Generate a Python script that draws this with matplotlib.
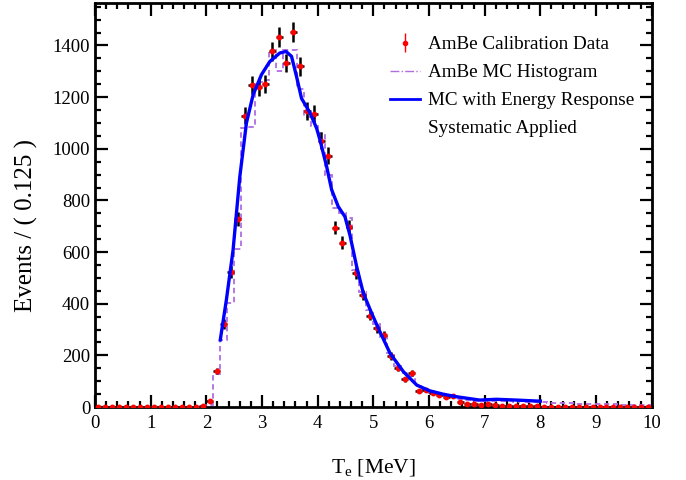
import numpy as np
import matplotlib
matplotlib.use("Agg")
import matplotlib.pyplot as plt
from matplotlib.lines import Line2D
from matplotlib.ticker import MultipleLocator

plt.rcParams['font.family'] = ['Liberation Serif', 'DejaVu Serif']
plt.rcParams['mathtext.fontset'] = 'custom'
plt.rcParams['mathtext.rm'] = 'Liberation Serif'
plt.rcParams['mathtext.it'] = 'Liberation Serif:italic'

# binning of the data / MC histogram (MeV)
bin_width = 0.125
x_min, x_max = 0.0, 10.0

# AmBe calibration data, events per bin (80 bins from 0 to 10 MeV)
data_counts = [0] * 15 + [
    3, 25, 140, 322, 522, 729, 1128, 1248, 1239, 1251,
    1377, 1433, 1332, 1452, 1319, 1147, 1134, 1031, 974, 695,
    637, 697, 518, 434, 354, 305, 278, 198, 152, 107,
    131, 62, 66, 53, 46, 40, 43, 18, 12, 12,
    8, 12, 7, 3, 4, 3, 5, 3, 4, 2,
    1, 2, 1, 1, 0, 1, 0, 1, 0, 0,
    0, 0, 0, 0, 0]

# AmBe MC histogram
mc_counts = [0] * 16 + [
    8, 128, 260, 404, 611, 1080, 1085, 1260, 1265, 1384,
    1300, 1384, 1384, 1230, 1125, 1090, 1060, 900, 770, 750,
    732, 530, 445, 375, 320, 270, 210, 160, 130, 120,
    80, 65, 55, 50, 45, 38, 32, 28, 25, 22,
    22, 25, 22, 22, 20, 22, 20, 20, 18, 17,
    16, 15, 14, 13, 13, 12, 11, 10, 10, 9,
    9, 8, 8, 7]

# MC with energy response systematic applied
curve_e = [2.25, 2.36, 2.48, 2.60, 2.72, 2.84, 2.99, 3.14, 3.32, 3.43,
           3.53, 3.62, 3.71, 3.86, 3.98, 4.04, 4.16, 4.25, 4.37, 4.49,
           4.58, 4.70, 4.82, 4.97, 5.10, 5.30, 5.54, 5.78, 6.01, 6.25,
           6.49, 6.91, 7.21, 7.57, 7.96, 8.0]
curve_n = [260, 415, 608, 890, 1100, 1209, 1287, 1338, 1371, 1377,
           1358, 1280, 1195, 1140, 1080, 1035, 932, 842, 776, 737,
           665, 544, 441, 363, 300, 208, 137, 85, 63, 50,
           40, 27, 30, 27, 23, 23]

edges = np.arange(x_min, x_max + bin_width / 2, bin_width)
centers = edges[:-1] + bin_width / 2
data = np.array(data_counts, dtype=float)
mc = np.array(mc_counts, dtype=float)

fig = plt.figure(figsize=(6.86, 4.80), dpi=100)
ax = fig.add_axes([0.1385, 0.152, 0.8115, 0.842])

purple = '#b06ee0'
ax.stairs(mc, edges, color=purple, lw=1.3, ls=(0, (3, 2)), zorder=2)

nz = data > 0
ax.errorbar(centers[nz], data[nz], yerr=np.sqrt(data[nz]), xerr=bin_width / 2,
            fmt='none', ecolor='black', elinewidth=1.8, zorder=3)
ax.plot(centers, data, 'o', color='red', ms=3.2, mec='red', zorder=4)

ax.plot(curve_e, curve_n, color='#0000ff', lw=2.4, zorder=5)

ax.set_xlim(x_min, x_max)
ax.set_ylim(0, 1565)
ax.xaxis.set_major_locator(MultipleLocator(1))
ax.xaxis.set_minor_locator(MultipleLocator(0.2))
ax.yaxis.set_major_locator(MultipleLocator(200))
ax.yaxis.set_minor_locator(MultipleLocator(50))
ax.tick_params(which='both', direction='in', top=True, right=True, width=1.6,
               labelsize=13.5, color='black')
ax.tick_params(which='major', length=9)
ax.tick_params(which='minor', length=4.5)
ax.tick_params(axis='x', pad=6)
for sp in ax.spines.values():
    sp.set_linewidth(2)

ax.set_xlabel(r'T$_{\rm e}$ [MeV]', fontsize=15.5, labelpad=18)
ax.set_ylabel('Events / ( 0.125 )', fontsize=18)
ax.yaxis.set_label_coords(-0.102, 0.45)

# legend proxies
h_data = ax.errorbar([np.nan], [np.nan], yerr=[1], fmt='o', color='red', ecolor='red',
                     ms=3, elinewidth=1)
h_mc = Line2D([], [], color=purple, lw=1, ls='-.')
h_curve = Line2D([], [], color='#0000ff', lw=2)
h_blank = Line2D([], [], color='none')
ax.legend([h_data, h_mc, h_curve, h_blank],
          ['AmBe Calibration Data', 'AmBe MC Histogram', 'MC with Energy Response',
           'Systematic Applied'],
          loc='upper left', bbox_to_anchor=(0.499, 0.961), frameon=False,
          fontsize=13.8, handlelength=1.56, handletextpad=0.42, labelspacing=0.55)

fig.savefig('out.png', dpi=100)
